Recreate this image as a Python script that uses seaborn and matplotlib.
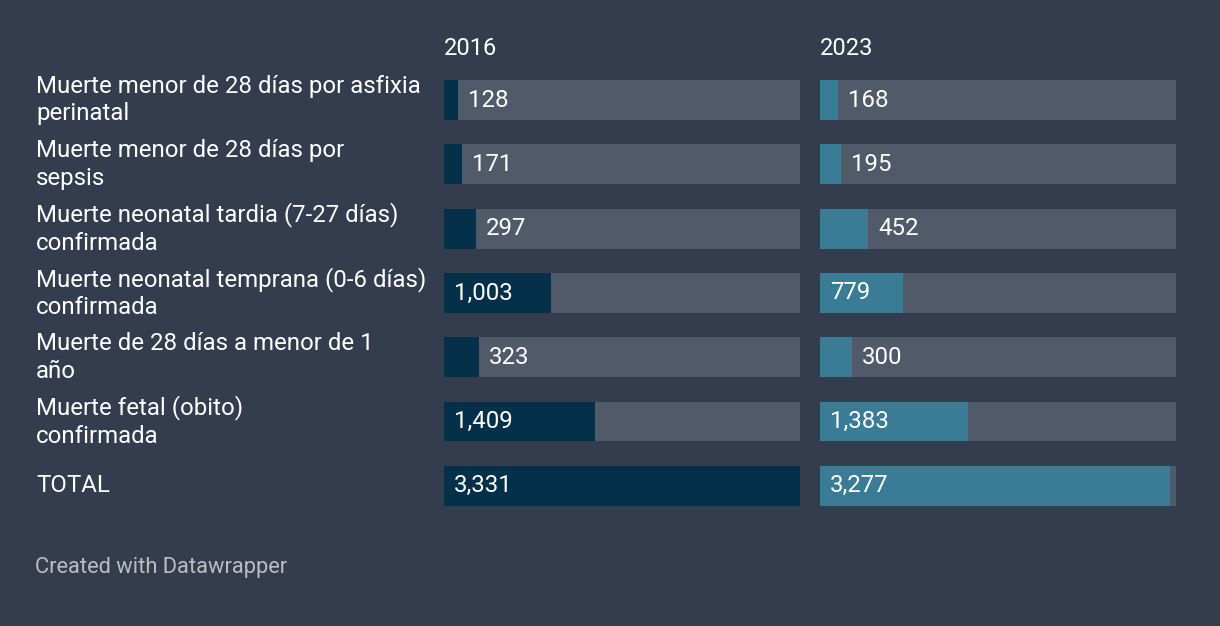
import matplotlib
matplotlib.use("Agg")
import matplotlib.pyplot as plt
import seaborn as sns

# ============================
# Data
# ============================

categories = [
    "Muerte menor de 28 días por asfixia\nperinatal",
    "Muerte menor de 28 días por\nsepsis",
    "Muerte neonatal tardia (7-27 días)\nconfirmada",
    "Muerte neonatal temprana (0-6 días)\nconfirmada",
    "Muerte de 28 días a menor de 1\naño",
    "Muerte fetal (obito)\nconfirmada",
    "TOTAL",
]
years = ["2016", "2023"]
values_2016 = [128, 171, 297, 1003, 323, 1409, 3331]
values_2023 = [168, 195, 452, 779, 300, 1383, 3277]

# ============================
# Style
# ============================

bg = "#333d4d"
track = "#505a69"
bar_colors = ["#04304a", "#3a7b96"]

sns.set_theme(style="white")
plt.rcParams["font.family"] = ["Roboto", "DejaVu Sans"]

fig = plt.figure(figsize=(12.2, 6.26), dpi=100)
fig.patch.set_facecolor(bg)

scale_max = max(values_2016 + values_2023)
lefts = [444 / 1220, 820 / 1220]
bottom = (626 - 518) / 626
height = 450 / 626
width = 356 / 1220

for i, (year, vals) in enumerate(zip(years, [values_2016, values_2023])):
    ax = fig.add_axes([lefts[i], bottom, width, height])
    ax.set_facecolor(bg)
    sns.barplot(x=[scale_max] * len(categories), y=categories, orient="h",
                color=track, width=0.62, saturation=1, linewidth=0, ax=ax)
    sns.barplot(x=vals, y=categories, orient="h",
                color=bar_colors[i], width=0.62, saturation=1, linewidth=0,
                ax=ax)
    ax.set_xlim(0, scale_max)
    ax.set_ylim(len(categories) - 0.5, -0.5)
    ax.axis("off")

    # value labels
    pad = scale_max * 10 / 356
    for j, v in enumerate(vals):
        if v > scale_max * 0.2:
            xpos = pad
        else:
            xpos = v + pad
        ax.text(xpos, j, f"{v:,}", color="white", fontsize=17.25,
                va="center", ha="left")

    ax.text(0, -0.81, year, color="white", fontsize=17,
            va="center", ha="left")

    if i == 0:
        for j, cat in enumerate(categories):
            ax.text(-408 / 356 * scale_max, j, cat, color="white",
                    fontsize=17.25, va="center", ha="left", linespacing=1.25)

fig.text(35 / 1220, 1 - 568 / 626, "Created with Datawrapper",
         color="#bdbdbd", fontsize=15.75, va="center", ha="left")

plt.savefig("out.png", dpi=100, facecolor=bg)
